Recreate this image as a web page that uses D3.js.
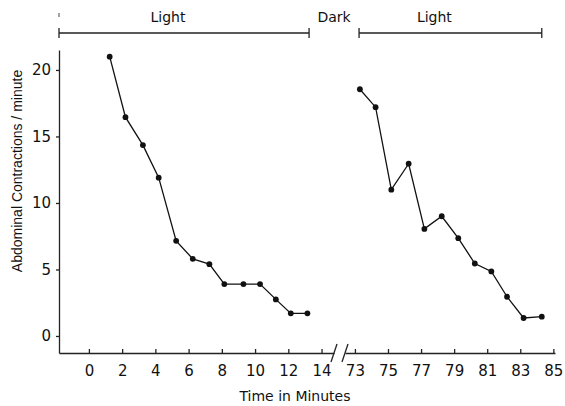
<!DOCTYPE html>
<html>
<head>
<meta charset="utf-8">
<script src="https://cdn.jsdelivr.net/npm/d3@7"></script>
<style>
  body { margin: 0; background: #fff; }
  svg text { font-family: "DejaVu Sans", sans-serif; fill: #111; }
</style>
</head>
<body>
<svg id="plot" width="565" height="406"></svg>
<script>
// values
const timeBefore = [1.25, 2.2, 3.25, 4.2, 5.25, 6.25, 7.25, 8.15, 9.3, 10.3, 11.25, 12.15, 13.15];
const rateBefore = [21.0, 16.45, 14.35, 11.9, 7.15, 5.8, 5.4, 3.9, 3.9, 3.9, 2.75, 1.7, 1.7];
const timeAfter = [73.3, 74.25, 75.2, 76.25, 77.2, 78.25, 79.25, 80.25, 81.25, 82.2, 83.2, 84.3];
const rateAfter = [18.55, 17.2, 11.0, 12.95, 8.05, 9.0, 7.35, 5.45, 4.85, 2.95, 1.35, 1.45];

const ticksBefore = [0, 2, 4, 6, 8, 10, 12, 14];
const ticksAfter = [73, 75, 77, 79, 81, 83, 85];
const yTicks = [0, 5, 10, 15, 20];

// light periods (minutes), drawn as brackets above the plot
const lightStart = [-1.8, 73.25];
const lightEnd = [13.25, 84.3];

const svg = d3.select('svg#plot');

const yAxisX = 59, baseY = 353, topY = 50;

const y = d3.scaleLinear().domain([-1.28, 21.5]).range([baseY, topY]);
const xL = d3.scaleLinear().domain([-1.8, 14.75]).range([yAxisX, 334]);
const xR = d3.scaleLinear().domain([72.4, 85.1]).range([345, 555]);

// y axis
const yAxis = svg.append('g')
  .attr('transform', `translate(${yAxisX},0)`)
  .call(d3.axisLeft(y).tickValues(yTicks).tickSize(3).tickSizeOuter(0).tickPadding(5));
yAxis.selectAll('text').style('font-size', '15px');

// x axes, split by a break
const xAxisL = svg.append('g')
  .attr('transform', `translate(0,${baseY})`)
  .call(d3.axisBottom(xL).tickValues(ticksBefore).tickSize(-4).tickSizeOuter(0).tickPadding(12));
const xAxisR = svg.append('g')
  .attr('transform', `translate(0,${baseY})`)
  .call(d3.axisBottom(xR).tickValues(ticksAfter).tickSize(-4).tickSizeOuter(0).tickPadding(12));
[xAxisL, xAxisR].forEach(a => a.selectAll('text').style('font-size', '15px'));
svg.selectAll('.domain, .tick line').attr('stroke', '#222').attr('stroke-width', 1.3);

// break marks
[xL.range()[1], xR.range()[0]].forEach(bx => {
  svg.append('line')
    .attr('x1', bx - 3).attr('y1', baseY + 9)
    .attr('x2', bx + 3).attr('y2', baseY - 9)
    .attr('stroke', '#222').attr('stroke-width', 1.3);
});

// series
const line = d3.line();
const drawSeries = (times, rates, x) => {
  const pts = times.map((t, i) => [x(t), y(rates[i])]);
  svg.append('path')
    .attr('d', line(pts))
    .attr('fill', 'none')
    .attr('stroke', '#111')
    .attr('stroke-width', 1.3);
  svg.selectAll(null)
    .data(pts)
    .join('circle')
    .attr('cx', d => d[0])
    .attr('cy', d => d[1])
    .attr('r', 2.9)
    .attr('fill', '#111');
};
drawSeries(timeBefore, rateBefore, xL);
drawSeries(timeAfter, rateAfter, xR);

// light / dark brackets
const brY = 33;
const scales = [xL, xR];
lightStart.forEach((s, i) => {
  const x0 = scales[i](s), x1 = scales[i](lightEnd[i]);
  const g = svg.append('g').attr('stroke', '#222').attr('stroke-width', 1.3);
  g.append('line').attr('x1', x0).attr('x2', x1).attr('y1', brY).attr('y2', brY);
  g.append('line').attr('x1', x0).attr('x2', x0).attr('y1', brY - 5).attr('y2', brY + 5);
  g.append('line').attr('x1', x1).attr('x2', x1).attr('y1', brY - 5).attr('y2', brY + 5);
  svg.append('text')
    .attr('x', (x0 + x1) / 2 - 16)
    .attr('y', 22)
    .attr('text-anchor', 'middle')
    .style('font-size', '14px')
    .text('Light');
});
// small stray mark above first bracket
svg.append('line')
  .attr('x1', xL(lightStart[0])).attr('x2', xL(lightStart[0]))
  .attr('y1', 13).attr('y2', 17)
  .attr('stroke', '#444').attr('stroke-width', 1);

svg.append('text')
  .attr('x', (xL(lightEnd[0]) + xR(lightStart[1])) / 2)
  .attr('y', 22)
  .attr('text-anchor', 'middle')
  .style('font-size', '14px')
  .text('Dark');

// axis titles
svg.append('text')
  .attr('x', 295)
  .attr('y', 401)
  .attr('text-anchor', 'middle')
  .style('font-size', '14px')
  .text('Time in Minutes');

svg.append('text')
  .attr('transform', 'translate(22,171) rotate(-90)')
  .attr('text-anchor', 'middle')
  .style('font-family', '"Liberation Sans", sans-serif')
  .style('font-size', '14px')
  .text('Abdominal Contractions / minute');
</script>
</body>
</html>
